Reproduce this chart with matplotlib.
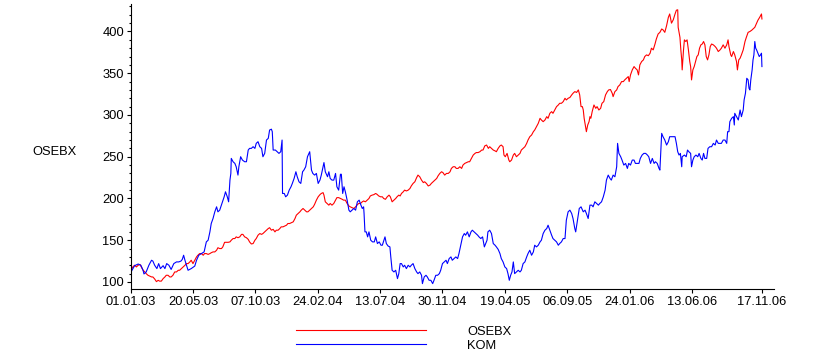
import numpy as np
import pandas as pd
import matplotlib
matplotlib.use("Agg")
import matplotlib.pyplot as plt
import matplotlib.dates as mdates
from matplotlib.ticker import MultipleLocator, FixedLocator

plt.rcParams['font.family'] = ['Liberation Sans', 'DejaVu Sans']

start = pd.Timestamp("2003-01-01")

# KOM (blue), days after 01.01.03 and index value
kom_days = [
    0, 8, 16, 22, 27, 29, 34, 40, 46, 49, 53, 58, 62, 66, 72, 76, 80, 85, 90, 96,
    102, 107, 112, 115, 118, 121, 128, 135, 143, 147, 152, 158, 164, 169, 173, 177, 180, 184, 188, 192,
    195, 199, 204, 209, 212, 216, 219, 222, 224, 225, 229, 233, 236, 240, 242, 246, 250, 255, 259, 263,
    266, 270, 274, 278, 281, 285, 289, 293, 296, 300, 304, 308, 311, 315, 317, 319, 324, 328, 332, 336,
    339, 340, 344, 347, 351, 355, 359, 362, 366, 370, 373, 377, 381, 385, 388, 392, 396,
    401, 405, 408, 412, 416, 420, 424, 427, 431, 433, 436, 441, 444, 447, 451, 455, 459, 462, 466, 470,
    472, 475, 478, 481, 485, 489, 492, 496, 500, 504, 508, 512, 516, 519, 522, 523, 525, 528, 531, 534,
    538, 542, 546, 549, 553, 557, 561, 564, 570, 573, 577, 581, 583, 586, 590, 594, 598,
    601, 604, 607, 611, 614, 618, 622, 626, 629, 633, 637, 641, 644, 648, 652, 654, 658, 662, 665, 669,
    673, 677, 680, 684, 688, 692, 695, 699, 703, 707, 710, 714, 718, 721, 725, 729, 733, 736, 740, 744,
    748, 751, 755, 759, 763, 766, 770, 774, 778, 781, 785, 789, 793, 796, 799,
    801, 805, 809, 813, 817, 820, 824, 828, 831, 835, 839, 843, 846, 849, 852, 855, 858, 861, 865, 869,
    873, 876, 880, 884, 888, 891, 895, 899, 903, 906, 910, 914, 918, 921, 925, 929, 933, 936, 940, 944,
    947, 951, 955, 959, 962, 966, 970, 974, 977, 981, 985, 989, 992, 996, 998, 1002, 1006,
    1010, 1015, 1019, 1022, 1026, 1030, 1034, 1037, 1041, 1045, 1049, 1052, 1056, 1060, 1064, 1067, 1071, 1075, 1078, 1082,
    1086, 1090, 1092, 1095, 1099, 1102, 1106, 1110, 1114, 1117, 1121, 1125, 1129, 1132, 1136, 1140, 1143, 1147, 1151, 1155,
    1159, 1162, 1166, 1170, 1174, 1177, 1181, 1185, 1187, 1189, 1191, 1194, 1198, 1202, 1206,
    1209, 1217, 1221, 1224, 1227, 1230, 1233, 1236, 1237, 1242, 1246, 1249, 1252, 1256, 1258, 1261, 1264, 1268, 1272, 1275,
    1279, 1282, 1285, 1288, 1292, 1295, 1299, 1303, 1307, 1311, 1314, 1318, 1322, 1325, 1329, 1333, 1337, 1339, 1342, 1344,
    1348, 1352, 1354, 1355, 1359, 1363, 1367, 1370, 1374, 1376, 1379, 1382, 1385, 1387, 1389, 1391, 1394, 1396, 1398, 1400,
    1402, 1404, 1407, 1410, 1413, 1415, 1416,
]
kom_vals = [
    112, 119.5, 121.5, 120, 114, 109.6, 112, 120, 126, 125, 120, 116, 122, 116, 119.5, 116, 122, 120, 115, 122,
    124, 124, 125, 127, 132, 126, 114, 116, 119, 126, 132, 134, 136, 148, 150, 160, 170, 176, 184, 190,
    184, 186, 194, 202, 208, 202, 196, 222, 230, 248, 244, 242, 238, 228, 238, 250, 246, 244, 244, 258,
    260, 260, 262, 260, 266, 268, 262, 260, 250, 254, 270, 272, 282, 283, 280, 258, 258, 256, 254, 256,
    270, 206, 206, 202, 204, 210, 214, 218, 224, 232, 226, 220, 218, 232, 234, 238, 250,
    256, 234, 230, 228, 230, 218, 222, 228, 238, 243, 232, 226, 232, 224, 222, 222, 230, 214, 210, 229,
    229, 206, 214, 208, 198, 186, 184, 186, 188, 186, 196, 198, 192, 188, 190, 182, 160, 160, 154, 160,
    150, 148, 148, 154, 146, 148, 144, 144, 154, 146, 143, 142, 130, 114, 112, 114, 104,
    110, 122, 122, 118, 120, 116, 120, 118, 120, 122, 116, 112, 110, 112, 108, 98, 106, 108, 106, 102,
    102, 98, 102, 108, 108, 110, 114, 122, 124, 126, 122, 128, 130, 126, 128, 130, 128, 134, 144, 154,
    158, 156, 160, 154, 160, 162, 160, 158, 156, 154, 152, 154, 142, 146, 150,
    160, 162, 158, 146, 144, 142, 139, 134, 128, 124, 118, 116, 110, 102, 108, 112, 124, 110, 112, 114,
    112, 114, 122, 124, 130, 134, 138, 132, 136, 144, 142, 144, 148, 150, 158, 162, 164, 168, 162, 156,
    152, 150, 148, 144, 146, 148, 152, 152, 174, 184, 186, 182, 176, 164, 160, 174, 188,
    190, 184, 186, 182, 176, 192, 192, 190, 196, 194, 192, 194, 196, 202, 210, 222, 228, 224, 222, 228,
    226, 238, 266, 254, 250, 246, 240, 242, 236, 242, 240, 246, 246, 242, 242, 242, 248, 252, 254, 254,
    252, 250, 242, 248, 242, 244, 242, 236, 234, 256, 278, 274, 270, 264, 268,
    274, 274, 274, 266, 256, 252, 254, 238, 250, 252, 250, 258, 256, 254, 238, 246, 250, 252, 250, 254,
    248, 246, 254, 248, 248, 260, 262, 262, 266, 264, 270, 266, 266, 266, 270, 270, 266, 280, 280, 292,
    296, 298, 288, 302, 298, 294, 306, 298, 306, 318, 326, 344, 342, 332, 330, 342, 354, 366, 372, 388,
    380, 378, 374, 370, 372, 374, 358,
]

# OSEBX (red)
osebx_days = [
    0, 4, 8, 12, 16, 20, 23, 27, 31, 34, 38, 42, 46, 49, 53, 57, 61, 64, 68, 72,
    76, 79, 83, 87, 90, 94, 98, 102, 106, 109, 113, 117, 121, 124, 128, 132, 135, 139, 143, 147,
    150, 154, 158, 162, 165, 169, 173, 177, 180, 184, 188, 192,
    195, 199, 203, 206, 210, 214, 218, 222, 225, 229, 233, 236, 240, 244, 248, 251, 255, 259, 263, 266,
    270, 274, 278, 281, 285, 289, 293, 296, 300, 304, 308, 311, 315, 319, 323, 326, 330, 334, 337, 341,
    345, 349, 352, 356, 360, 364, 368, 371, 375, 379, 382, 386, 390, 394, 397,
    401, 405, 409, 412, 416, 420, 424, 427, 431, 433, 436, 440, 444, 447, 451, 455, 459, 462, 466, 470,
    474, 477, 481, 485, 489, 492, 496, 500, 504, 507, 511, 515, 519, 522, 526, 530, 534, 537, 541, 545,
    549, 552, 556, 560, 564, 567, 571, 575, 579, 582, 586, 590, 594, 597, 601,
    604, 607, 611, 614, 618, 622, 626, 629, 633, 637, 641, 644, 648, 652, 656, 659, 663, 667, 671, 674,
    678, 682, 686, 689, 693, 697, 700, 704, 708, 712, 716, 719, 723, 727, 730, 734, 738, 742, 745, 749,
    753, 757, 760, 764, 768, 772, 775, 779, 783, 787, 790, 794, 798,
    802, 805, 809, 813, 817, 820, 824, 828, 831, 835, 837, 840, 844, 848, 850, 854, 858, 861, 865, 869,
    873, 876, 880, 884, 888, 891, 895, 899, 903, 906, 910, 914, 918, 921, 925, 929, 933, 936, 940, 944,
    947, 951, 955, 959, 962, 966, 970, 974, 977, 981, 985, 989, 992, 996, 1000, 1004,
    1007, 1010, 1013, 1015, 1017, 1020, 1022, 1025, 1028, 1030, 1032, 1035, 1039, 1043, 1046, 1050, 1054, 1057, 1061, 1065,
    1069, 1072, 1076, 1080, 1082, 1086, 1090, 1093, 1097, 1101, 1105, 1108, 1112, 1116, 1118, 1121, 1125, 1129, 1132, 1136,
    1139, 1142, 1146, 1150, 1153, 1157, 1161, 1165, 1168, 1172, 1176, 1179, 1183, 1187, 1191, 1194, 1198, 1202, 1206, 1209,
    1213, 1217, 1221, 1224, 1227, 1228, 1232, 1234, 1236, 1237, 1240, 1242, 1245, 1248, 1251, 1254, 1256, 1258, 1261, 1264,
    1267, 1270, 1273, 1276, 1279, 1282, 1285, 1288, 1291, 1294, 1297, 1300, 1303, 1307, 1311, 1314, 1318, 1322, 1325, 1329,
    1333, 1337, 1340, 1342, 1346, 1348, 1352, 1355, 1359, 1361, 1364, 1367, 1370, 1374, 1378, 1381, 1385, 1389, 1393, 1396,
    1400, 1404, 1407, 1411, 1415, 1416,
]
osebx_vals = [
    114, 118, 120, 118, 120, 121, 118, 114, 112, 110, 108, 107, 106, 106, 103.6, 100.4, 102, 101, 101, 104,
    106, 108, 108, 106, 106, 108, 112, 112, 114, 114, 116, 118, 120, 122, 122, 124, 126, 122, 126, 130,
    132, 134, 134, 132, 134, 134, 133, 134, 135, 136, 136, 138,
    141, 140, 140, 142, 147.5, 147.5, 147.5, 148, 150, 152, 152, 154, 153, 154, 157, 157, 154, 153, 151, 148,
    145.5, 146, 150, 152, 156, 158, 157, 158, 160, 162, 164, 165, 162, 163, 160, 162, 162, 164, 166, 166,
    167, 168, 170, 170, 171, 172, 176, 180, 182, 184, 186, 188, 186, 184, 184,
    186, 188, 190, 193, 198, 202, 204.6, 206, 207, 204, 196, 194, 192, 194, 192, 194, 198, 201, 201, 200,
    199, 198, 198, 194, 191, 190, 189, 188, 190, 192, 194, 194, 196, 197, 196, 198, 200, 203, 204, 204.6,
    206, 205, 203, 202, 202, 200, 199, 202, 204, 202, 196, 198, 200, 202, 204,
    203, 206, 208, 210, 209, 210, 212, 215, 218, 220, 225, 228, 226, 222, 219, 220, 218, 215, 216, 218,
    220, 222, 224, 227, 230, 232, 231, 228, 230, 230, 232, 236, 238, 238, 236, 236, 238, 236, 240, 242,
    243, 244, 244, 248, 252, 254, 255, 255, 256, 258, 258, 263, 264,
    260, 262, 260, 258, 257, 256, 260, 263, 264, 262, 252, 250, 254, 246, 244, 246, 252, 254, 250, 252,
    254, 258, 260, 262, 266, 270, 274, 276, 280, 282, 286, 290, 296, 294, 292, 294, 298, 296, 302, 304,
    302, 306, 310, 312, 314, 314, 316, 320, 318, 320, 321, 324, 326, 328, 327, 330,
    324, 310, 310, 306, 296, 286, 280, 288, 292, 298, 296, 304, 312, 308, 310, 306, 308, 314, 316, 324,
    328, 330, 330.5, 326, 322, 328, 330, 334, 336, 340, 340, 342, 344, 346, 340, 348, 354, 358, 356, 354,
    348, 360, 364, 366, 370, 372, 371, 374, 380, 378, 385, 391, 397, 399, 403, 402, 399, 407, 417, 421,
    410, 414, 421, 425.5, 426, 405, 393, 378, 366, 354, 378, 390, 388, 390, 378, 364, 358, 342, 354, 358,
    364, 370, 372, 380, 384, 385, 388, 384, 370, 366, 372, 382, 385, 384, 382, 380, 376, 378, 380, 384,
    380, 384, 390, 382, 372, 370, 376, 372, 364, 354, 366, 368, 372, 378, 388, 393, 399, 400, 401.5, 403,
    405, 410, 413.5, 417, 421, 415,
]

tick_labels = ["01.01.03", "20.05.03", "07.10.03", "24.02.04", "13.07.04", "30.11.04",
               "19.04.05", "06.09.05", "24.01.06", "13.06.06", "17.11.06"]

kom_dates = start + pd.to_timedelta(kom_days, unit="D")
osebx_dates = start + pd.to_timedelta(osebx_days, unit="D")
tick_dates = pd.to_datetime(tick_labels, format="%d.%m.%y")

fs = 9.3
fig = plt.figure(figsize=(8.19, 3.59), dpi=100)
ax = fig.add_axes([0.160, 0.196, 0.785, 0.793])

# plot lines
ax.plot(osebx_dates, osebx_vals, color="#ff0000", lw=0.8, label="OSEBX")
ax.plot(kom_dates, kom_vals, color="#0000ff", lw=0.8, label="KOM")

ax.set_xlim(start, pd.Timestamp("2006-12-14"))
ax.set_ylim(92, 433)

ax.xaxis.set_major_locator(FixedLocator(mdates.date2num(tick_dates)))
ax.xaxis.set_major_formatter(mdates.DateFormatter("%d.%m.%y"))
ax.yaxis.set_major_locator(MultipleLocator(50))
ax.yaxis.set_minor_locator(MultipleLocator(10))

for s in ["top", "right"]:
    ax.spines[s].set_visible(False)
for s in ["left", "bottom"]:
    ax.spines[s].set_linewidth(0.8)
ax.tick_params(axis="both", which="major", direction="out", length=3, width=0.8,
               labelsize=fs, pad=2)
ax.tick_params(axis="y", which="minor", direction="out", length=1.8, width=0.8)

fig.text(0.067, 0.577, "OSEBX", ha="center", va="center", fontsize=fs)

fig.legend(loc="center", bbox_to_anchor=(0.493, 0.057), frameon=False,
           handlelength=10, handletextpad=3.2, labelspacing=0.15, fontsize=fs,
           borderpad=0)

fig.savefig("out.png", dpi=100)
